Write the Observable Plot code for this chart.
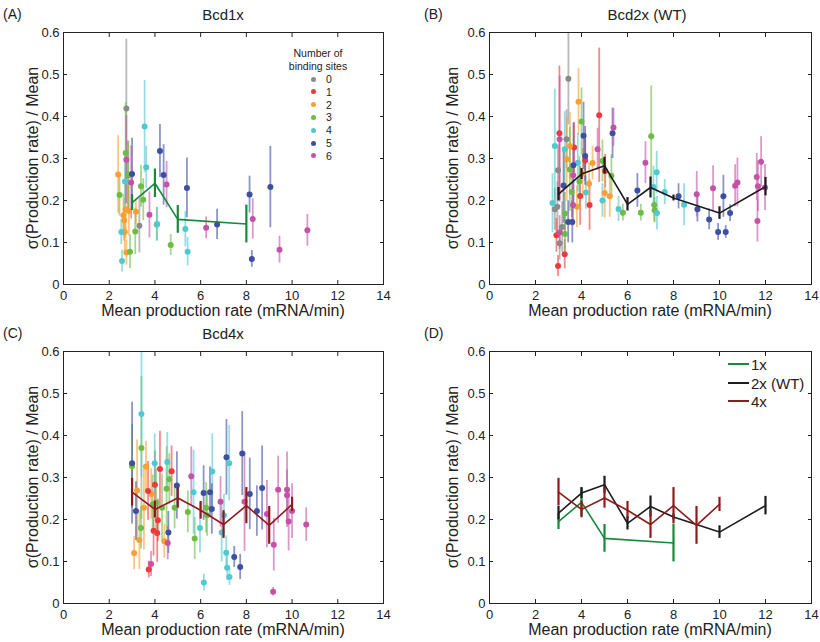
<!DOCTYPE html>
<html><head><meta charset="utf-8">
<script src="https://cdn.jsdelivr.net/npm/d3@7"></script>
<script src="https://cdn.jsdelivr.net/npm/@observablehq/plot@0.6"></script>
<style>
body{margin:0;background:#fff;font-family:"Liberation Sans",Arial,Helvetica,sans-serif;}
#wrap{position:relative;width:820px;height:642px;overflow:hidden;background:#fff;}
.abs{position:absolute;white-space:nowrap;color:#222;line-height:1;}
.c{transform:translate(-50%,-50%);}
.l{transform:translate(0,-50%);}
.rot{transform:translate(-50%,-50%) rotate(-90deg);}
.panel{position:absolute;}
</style></head><body><div id="wrap"></div>
<script>
// ---------- data ----------
const siteLabels = ["0","1","2","3","4","5","6"];
const siteColors = ["#8a8a8a","#ec3a3f","#f7a033","#6dbc45","#52c8d0","#3d4fa3","#c453a8"];
const xTicks = [0,2,4,6,8,10,12,14];
const yTicks = [0,0.1,0.2,0.3,0.4,0.5,0.6];

// [mean rate, sigma/mean, error half-length, number of binding sites]
const bcd1xPoints = [
 [2.75,0.419,0.165,0],[2.84,0.26,0.08,0],[3.32,0.14,0.065,0],
 [2.39,0.262,0.092,2],[2.65,0.153,0.05,2],[2.62,0.165,0.05,2],[2.72,0.179,0.07,2],[2.86,0.175,0.06,2],[3.17,0.173,0.03,2],[2.75,0.076,0.03,2],[2.68,0.125,0.05,2],
 [2.45,0.213,0.05,3],[2.72,0.313,0.12,3],[2.91,0.078,0.04,3],[3.14,0.126,0.055,3],[3.39,0.234,0.05,3],[3.49,0.202,0.05,3],[4.08,0.143,0.04,3],[4.69,0.094,0.025,3],[2.82,0.262,0.08,3],
 [2.53,0.125,0.03,4],[2.56,0.056,0.026,4],[2.69,0.245,0.065,4],[3.55,0.376,0.11,4],[3.62,0.279,0.05,4],[4.1,0.144,0.04,4],[5.33,0.132,0.042,4],[5.43,0.078,0.034,4],
 [3.0,0.263,0.085,5],[4.22,0.318,0.063,5],[4.38,0.261,0.072,5],[5.4,0.23,0.071,5],[6.72,0.143,0.036,5],[8.14,0.214,0.044,5],[8.24,0.061,0.02,5],[9.05,0.232,0.097,5],
 [2.75,0.297,0.105,6],[2.96,0.243,0.087,6],[3.76,0.166,0.055,6],[4.51,0.238,0.055,6],[6.24,0.135,0.026,6],[8.28,0.156,0.048,6],[9.45,0.083,0.032,6],[10.67,0.129,0.038,6]
];
const bcd2xPoints = [
 [3.43,0.49,0.11,0],[3.35,0.346,0.07,0],[2.98,0.272,0.06,0],[2.84,0.179,0.05,0],[2.95,0.185,0.06,0],[3.16,0.137,0.06,0],[3.05,0.098,0.04,0],
 [3.04,0.36,0.16,1],[3.68,0.326,0.06,1],[4.16,0.296,0.05,1],[3.94,0.211,0.07,1],[4.35,0.189,0.06,1],[4.77,0.403,0.16,1],[5.03,0.27,0.04,1],[2.91,0.117,0.04,1],[3.27,0.072,0.035,1],[2.98,0.044,0.025,1],
 [3.87,0.435,0.08,2],[3.36,0.298,0.1,2],[4.05,0.264,0.06,2],[3.8,0.185,0.05,2],[4.33,0.24,0.05,2],[4.48,0.289,0.04,2],[5.01,0.218,0.06,2],[5.23,0.21,0.05,2],[3.5,0.33,0.08,2],
 [4.0,0.388,0.08,3],[3.49,0.274,0.1,3],[3.58,0.22,0.06,3],[3.28,0.169,0.05,3],[3.28,0.12,0.04,3],[3.91,0.245,0.06,3],[4.91,0.294,0.05,3],[5.3,0.259,0.05,3],[5.8,0.171,0.02,3],[6.58,0.171,0.02,3],[7.03,0.353,0.12,3],[7.16,0.189,0.04,3],[7.18,0.177,0.03,3],
 [2.74,0.194,0.07,4],[2.84,0.33,0.135,4],[3.27,0.322,0.09,4],[3.84,0.29,0.07,4],[4.19,0.219,0.04,4],[4.91,0.2,0.04,4],[5.61,0.18,0.03,4],[7.13,0.232,0.05,4],[7.27,0.267,0.05,4],[7.28,0.17,0.04,4],[7.62,0.22,0.03,4],[8.46,0.19,0.05,4],
 [4.09,0.354,0.08,5],[4.16,0.306,0.07,5],[3.65,0.284,0.1,5],[3.22,0.236,0.09,5],[3.42,0.149,0.05,5],[3.6,0.149,0.05,5],[5.35,0.36,0.06,5],[6.43,0.224,0.04,5],[8.22,0.21,0.03,5],[9.04,0.179,0.03,5],[9.55,0.155,0.025,5],[9.94,0.125,0.02,5],[10.17,0.21,0.05,5],[10.27,0.125,0.015,5],[10.46,0.17,0.02,5],
 [3.05,0.346,0.15,6],[3.05,0.124,0.04,6],[3.63,0.189,0.05,6],[3.64,0.26,0.06,6],[4.7,0.322,0.05,6],[5.39,0.374,0.045,6],[6.78,0.29,0.05,6],[9.01,0.215,0.054,6],[9.72,0.229,0.054,6],[10.68,0.235,0.05,6],[10.78,0.243,0.058,6],[11.62,0.256,0.056,6],[11.67,0.234,0.06,6],[11.81,0.292,0.06,6],[11.65,0.151,0.05,6],[11.98,0.231,0.055,6]
];
const bcd4xPoints = [
 [3.09,0.12,0.04,2],[3.22,0.269,0.12,2],[3.32,0.151,0.07,2],[3.52,0.228,0.1,2],[3.61,0.326,0.06,2],[3.84,0.261,0.06,2],[4.41,0.148,0.04,2],
 [3.73,0.081,0.02,1],[3.7,0.268,0.07,1],[4.0,0.283,0.08,1],[4.22,0.32,0.09,1],[4.73,0.315,0.06,1],[3.94,0.173,0.06,1],[4.1,0.168,0.07,1],[4.13,0.198,0.05,1],
 [3.0,0.327,0.1,3],[3.41,0.37,0.17,3],[3.39,0.18,0.05,3],[3.9,0.236,0.07,3],[4.31,0.228,0.08,3],[4.51,0.273,0.1,3],[4.63,0.296,0.06,3],[4.86,0.228,0.05,3],[5.44,0.218,0.05,3],[5.74,0.155,0.05,3],[6.24,0.228,0.06,3],[6.28,0.21,0.05,3],[4.05,0.24,0.08,3],
 [3.41,0.451,0.15,4],[3.99,0.334,0.07,4],[4.54,0.337,0.07,4],[5.69,0.265,0.1,4],[5.97,0.18,0.06,4],[6.14,0.05,0.02,4],[6.51,0.314,0.09,4],[6.92,0.169,0.07,4],[7.02,0.21,0.05,4],[7.12,0.121,0.04,4],[7.16,0.085,0.03,4],[7.26,0.063,0.02,4],[7.25,0.334,0.09,4],
 [3.0,0.334,0.145,5],[3.17,0.22,0.07,5],[4.59,0.169,0.05,5],[4.96,0.281,0.08,5],[6.13,0.263,0.065,5],[6.41,0.265,0.06,5],[6.49,0.225,0.06,5],[7.13,0.348,0.09,5],[7.47,0.111,0.025,5],[7.73,0.087,0.03,5],[7.82,0.357,0.1,5],[8.15,0.261,0.085,5],[8.46,0.22,0.06,5],[8.69,0.275,0.1,5],
 [3.83,0.094,0.03,6],[4.56,0.144,0.04,6],[5.59,0.303,0.07,6],[6.87,0.242,0.06,6],[7.92,0.242,0.118,6],[8.9,0.213,0.08,6],[9.2,0.14,0.063,6],[9.17,0.028,0.01,6],[9.39,0.271,0.08,6],[9.78,0.271,0.09,6],[9.78,0.258,0.06,6],[9.85,0.195,0.07,6],[10.0,0.22,0.065,6],[10.62,0.188,0.04,6]
];

// binned means
const mean1xX = [3,4,5,8];
const mean1xY = [0.195,0.241,0.155,0.144];
const mean1xE = [0.019,0.034,0.033,0.045];
const mean2xX = [3,4,5,6,7,8,10,12];
const mean2xY = [0.215,0.263,0.283,0.191,0.231,0.206,0.170,0.233];
const mean2xE = [0.016,0.013,0.020,0.016,0.025,0.007,0.015,0.022];
const mean4xX = [3,4,5,6,7,8,9,10];
const mean4xY = [0.265,0.224,0.251,0.222,0.188,0.233,0.186,0.236];
const mean4xE = [0.033,0.020,0.024,0.021,0.033,0.043,0.045,0.017];

const seriesNames = ["1x","2x (WT)","4x"];
const seriesColors = ["#16893b","#1c1c1c","#8e1b1b"];

// ---------- helpers ----------
const wrap = document.getElementById("wrap");
function txt(s, x, y, cls, size, extra){
  const d = document.createElement("div");
  d.className = "abs " + cls;
  d.style.left = x + "px"; d.style.top = y + "px";
  d.style.fontSize = size + "px";
  if (extra) Object.assign(d.style, extra);
  d.textContent = s;
  wrap.appendChild(d);
  return d;
}
const toRows = pts => pts.map(([x,y,e,s]) => ({x, y, e, s}));
const meanRows = (X,Y,E) => X.map((x,i) => ({x, y: Y[i], e: E[i]}));

function frameAxes(){
  return [
    Plot.frame({stroke:"#222", strokeWidth:1}),
    Plot.axisX({ticks:xTicks, tickSize:-4, tickPadding:10, label:null, fontSize:13, tickFormat:d=>String(d)}),
    Plot.axisX({anchor:"top", ticks:xTicks, tickSize:-4, tickFormat:()=>"", label:null}),
    Plot.axisY({ticks:yTicks, tickSize:-4, tickPadding:8, label:null, fontSize:13, tickFormat:d=> d===0 ? "0" : d.toFixed(1)}),
    Plot.axisY({anchor:"right", ticks:yTicks, tickSize:-4, tickFormat:()=>"", label:null})
  ];
}
function meanMarks(rows, color){
  return [
    Plot.line(rows, {x:"x", y:"y", stroke:color, strokeWidth:1.6}),
    Plot.ruleX(rows, {x:"x", y1:d=>d.y-d.e, y2:d=>d.y+d.e, stroke:color, strokeWidth:2.2})
  ];
}
function scatterMarks(rows){
  return [
    Plot.ruleX(rows, {x:"x", y1:d=>d.y-d.e, y2:d=>d.y+d.e, stroke:d=>siteColors[d.s], strokeOpacity:0.6, strokeWidth:1.8, clip:true}),
    Plot.dot(rows, {x:"x", y:"y", r:3, fill:d=>siteColors[d.s], stroke:"none"})
  ];
}
function makePlot(left, top, w, h, m, marks){
  const p = Plot.plot({
    width:w, height:h,
    marginLeft:m[0], marginRight:m[1], marginTop:m[2], marginBottom:m[3],
    x:{domain:[0,14]}, y:{domain:[0,0.6]},
    color:{type:"identity"},
    style:{fontFamily:'"Liberation Sans", Arial, sans-serif', fontSize:"13px", color:"#222", background:"transparent", overflow:"visible"},
    marks
  });
  const d = document.createElement("div");
  d.className = "panel";
  d.style.left = left + "px"; d.style.top = top + "px";
  d.appendChild(p);
  wrap.appendChild(d);
}

const mTopL = [63,27,32,37], mTopR = [79,9,32,37];
const mBotL = [63,27,31,39], mBotR = [79,9,31,39];

makePlot(0,0,410,321,mTopL,[...scatterMarks(toRows(bcd1xPoints)), ...meanMarks(meanRows(mean1xX,mean1xY,mean1xE), seriesColors[0]), ...frameAxes()]);
makePlot(410,0,410,321,mTopR,[...scatterMarks(toRows(bcd2xPoints)), ...meanMarks(meanRows(mean2xX,mean2xY,mean2xE), seriesColors[1]), ...frameAxes()]);
makePlot(0,320,410,322,mBotL,[...scatterMarks(toRows(bcd4xPoints)), ...meanMarks(meanRows(mean4xX,mean4xY,mean4xE), seriesColors[2]), ...frameAxes()]);
makePlot(410,320,410,322,mBotR,[
  ...meanMarks(meanRows(mean1xX,mean1xY,mean1xE), seriesColors[0]),
  ...meanMarks(meanRows(mean2xX,mean2xY,mean2xE), seriesColors[1]),
  ...meanMarks(meanRows(mean4xX,mean4xY,mean4xE), seriesColors[2]),
  ...frameAxes()
]);

// ---------- text overlays ----------
const ylab = "σ(Production rate) / Mean";
const xlab = "Mean production rate (mRNA/min)";
txt("(A)", 3, 14, "l", 14); txt("Bcd1x", 223, 14, "c", 15);
txt("(B)", 424, 14, "l", 14); txt("Bcd2x (WT)", 647, 14, "c", 15);
txt("(C)", 3, 333, "l", 14); txt("Bcd4x", 223, 333, "c", 15);
txt("(D)", 424, 333, "l", 14);
[[223,311],[650,311],[223,630],[650,630]].forEach(([x,y]) => txt(xlab, x, y, "c", 16));
[[33,158],[453,158],[33,477],[453,477]].forEach(([x,y]) => txt(ylab, x, y, "rot", 16));

// legend A: binding sites
txt("Number of", 318, 53, "c", 10.5);
txt("binding sites", 318, 65.5, "c", 10.5);
siteLabels.forEach((s,i) => {
  const y = 79 + i*12.8;
  const dot = document.createElement("div");
  dot.className = "abs";
  Object.assign(dot.style, {left:(310.5)+"px", top:(y-2.5)+"px", width:"5px", height:"5px", borderRadius:"50%", background:siteColors[i]});
  wrap.appendChild(dot);
  txt(s, 326, y, "l", 10.5);
});

// legend D
seriesNames.forEach((s,i) => {
  const y = 364 + Math.round(i*18.5);
  const ln = document.createElement("div");
  ln.className = "abs";
  Object.assign(ln.style, {left:"728px", top:(y-1)+"px", width:"21px", height:"2px", background:seriesColors[i]});
  wrap.appendChild(ln);
  txt(s, 751, y, "l", 15);
});
</script>
</body></html>
